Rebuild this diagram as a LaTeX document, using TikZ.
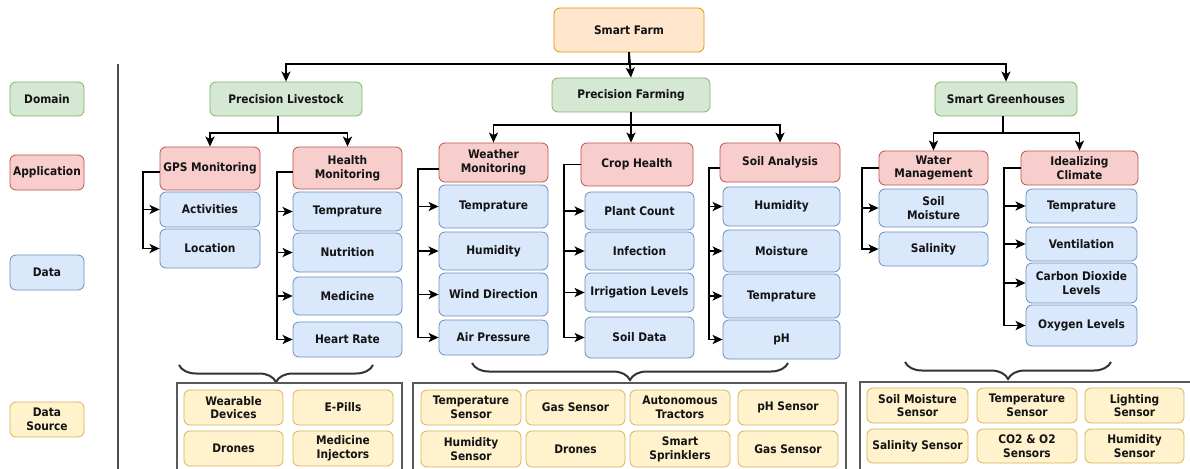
\documentclass[tikz,border=0pt]{standalone}
\usepackage{fontspec}
\setmainfont{DejaVu Sans Condensed}
\usetikzlibrary{arrows.meta,decorations.pathreplacing,calc}

\definecolor{orgF}{HTML}{FFE6CC}\definecolor{orgD}{HTML}{D79B00}
\definecolor{grnF}{HTML}{D5E8D4}\definecolor{grnD}{HTML}{82B366}
\definecolor{redF}{HTML}{F8CECC}\definecolor{redD}{HTML}{B85450}
\definecolor{bluF}{HTML}{DAE8FC}\definecolor{bluD}{HTML}{6C8EBF}
\definecolor{yelF}{HTML}{FFF2CC}\definecolor{yelD}{HTML}{D6B656}
\definecolor{ink}{HTML}{141414}

\tikzset{
  box/.style={rounded corners=6pt, line width=0.8pt, inner sep=1pt, align=center,
    font=\fontsize{11.8}{13.8}\selectfont\bfseries, text=ink},
  sz/.style 2 args={minimum width=#1pt, minimum height=#2pt},
  rootbox/.style={box, fill=orgF, draw=orgD},
  dombox/.style={box, fill=grnF, draw=grnD},
  appbox/.style={box, fill=redF, draw=redD},
  datbox/.style={box, fill=bluF, draw=bluD},
  srcbox/.style={box, fill=yelF, draw=yelD},
  arr/.style={draw=black, line width=1.9pt, -{Stealth[length=10pt,width=9pt,inset=2.5pt]}},
  encl/.style={draw=black!65, line width=1.1pt},
  curly/.style={draw=black!80, line width=2pt,
    decorate, decoration={brace, amplitude=17pt, aspect=0.5}},
}

\begin{document}
\begin{tikzpicture}[x=1pt, y=-1pt]
\useasboundingbox (0,0) rectangle (1190,468);
\clip (0,0) rectangle (1190,468);
\fill[white] (0,0) rectangle (1190,468);

% legend column
\node[dombox, sz={74}{34}] (lgdom) at (47,99) {Domain};
\node[appbox, sz={74}{35}] (lgapp) at (47,172.5) {Application};
\node[datbox, sz={74}{35}] (lgdat) at (47,272.5) {Data};
\node[srcbox, sz={74}{35}] (lgsrc) at (47,419.5) {Data\\Source};
\draw[draw=black!70, line width=1.1pt] (118,64) -- (118,470);

% root and domains
\node[rootbox, sz={150}{44}] (farm) at (629,30) {Smart Farm};
\node[dombox, sz={152}{34}] (pl) at (286,99) {Precision Livestock};
\node[dombox, sz={158}{34}] (pf) at (631,95) {Precision Farming};
\node[dombox, sz={142}{34}] (sg) at (1006,99) {Smart Greenhouses};

% precision livestock
\node[appbox, sz={100}{43}] (gps) at (210,168.5) {GPS Monitoring};
\node[appbox, sz={109}{42}] (hm) at (347.5,168) {Health\\Monitoring};
\node[datbox, sz={100}{35}] (act) at (210,209.5) {Activities};
\node[datbox, sz={100}{39}] (loc) at (210,248.5) {Location};
\node[datbox, sz={109}{39}] (hmt) at (347.5,211.5) {Temprature};
\node[datbox, sz={109}{39}] (nut) at (347.5,252.5) {Nutrition};
\node[datbox, sz={109}{38}] (med) at (347.5,296) {Medicine};
\node[datbox, sz={109}{35}] (hr) at (347.5,339.5) {Heart Rate};

% precision farming
\node[appbox, sz={109}{39}] (wm) at (493.5,162.5) {Weather\\Monitoring};
\node[datbox, sz={109}{43}] (wmt) at (493.5,206.5) {Temprature};
\node[datbox, sz={109}{38}] (wmh) at (493.5,251) {Humidity};
\node[datbox, sz={109}{43}] (wmw) at (493.5,294.5) {Wind Direction};
\node[datbox, sz={109}{35}] (wma) at (493.5,337.5) {Air Pressure};

\node[appbox, sz={112}{43}] (ch) at (637,164.5) {Crop Health};
\node[datbox, sz={109}{38}] (chp) at (639.5,211) {Plant Count};
\node[datbox, sz={109}{38}] (chi) at (639.5,251) {Infection};
\node[datbox, sz={109}{39}] (chl) at (639.5,292.5) {Irrigation Levels};
\node[datbox, sz={109}{41}] (chs) at (639.5,337.5) {Soil Data};

\node[appbox, sz={120}{39}] (sa) at (780,162.5) {Soil Analysis};
\node[datbox, sz={117}{39}] (sah) at (781.5,206.5) {Humidity};
\node[datbox, sz={117}{42}] (sam) at (781.5,251) {Moisture};
\node[datbox, sz={117}{44}] (sat) at (781.5,296) {Temprature};
\node[datbox, sz={117}{39}] (sap) at (781.5,339.5) {pH};

% smart greenhouses
\node[appbox, sz={109}{34}] (wtm) at (933.5,168) {Water\\Management};
\node[datbox, sz={109}{38}] (wsm) at (933.5,208) {Soil\\Moisture};
\node[datbox, sz={109}{34}] (wsl) at (933.5,249) {Salinity};

\node[appbox, sz={117}{34}] (ic) at (1079.5,168) {Idealizing\\Climate};
\node[datbox, sz={111}{34}] (ict) at (1081.5,206) {Temprature};
\node[datbox, sz={111}{34}] (icv) at (1081.5,244) {Ventilation};
\node[datbox, sz={111}{40}] (icc) at (1081.5,283) {Carbon Dioxide\\Levels};
\node[datbox, sz={111}{41}] (ico) at (1081.5,325.5) {Oxygen Levels};

% connectors: root to domains
\draw[arr] (farm.south) -- (pf.north);
\draw[arr] (farm.south) -- ++(0,12) -| (pl.north);
\draw[arr] (farm.south) -- ++(0,12) -| (sg.north);

% domains to applications
\draw[arr] ([xshift=-8pt]pl.south) -- ++(0,17) -| (gps.north);
\draw[arr] ([xshift=-8pt]pl.south) -- ++(0,17) -| (hm.north);
\draw[arr] (pf.south) -- ++(0,13) -| (wm.north);
\draw[arr] (pf.south) -- (pf.south |- ch.north);
\draw[arr] (pf.south) -- ++(0,13) -| (sa.north);
\draw[arr] ([xshift=-3pt]sg.south) -- ++(0,17) -| (wtm.north);
\draw[arr] ([xshift=-3pt]sg.south) -- ++(0,17) -| (ic.north);

% applications to data
\foreach \c in {act,loc}
  \draw[arr] ([yshift=-3.5pt]gps.west) -- ++(-17,0) |- (\c.west);
\foreach \c in {hmt,nut,med,hr}
  \draw[arr] ([yshift=-4pt]hm.west) -- ++(-16,0) |- (\c.west);
\foreach \c in {wmt,wmh,wmw,wma}
  \draw[arr] ([yshift=-6.5pt]wm.west) -- ++(-21,0) |- (\c.west);
\foreach \c in {chp,chi,chl,chs}
  \draw[arr] (ch.west) -- ++(-17,0) |- (\c.west);
\foreach \c in {sah,sam,sat,sap}
  \draw[arr] ([yshift=-5.5pt]sa.west) -- ++(-11,0) |- (\c.west);
\foreach \c in {wsm,wsl}
  \draw[arr] (wtm.west) -- ++(-17,0) |- (\c.west);
\foreach \c in {ict,icv,icc,ico}
  \draw[arr] (ic.west) -- ++(-17,0) |- (\c.west);

% braces over the data sources
\coordinate (brLa) at (373,365); \coordinate (brLb) at (179,365);
\coordinate (brFa) at (788,363); \coordinate (brFb) at (472,363);
\coordinate (brGa) at (1111,362); \coordinate (brGb) at (905,362);
\draw[curly] (brLa) -- (brLb);
\draw[curly] (brFa) -- (brFb);
\draw[curly] (brGa) -- (brGb);

% data source groups
\draw[encl] (177,383) rectangle (402,480);
\draw[encl] (413,383) rectangle (846,480);
\draw[encl] (860,382) rectangle (1200,480);

\node[srcbox, sz={99}{35}] (s1) at (233.5,407.5) {Wearable\\Devices};
\node[srcbox, sz={100}{35}] (s2) at (343,407.5) {E-Pills};
\node[srcbox, sz={99}{35}] (s3) at (233.5,448.5) {Drones};
\node[srcbox, sz={100}{35}] (s4) at (343,448.5) {Medicine\\Injectors};

\node[srcbox, sz={100}{35}] (f1) at (471,407.5) {Temperature\\Sensor};
\node[srcbox, sz={99}{35}] (f2) at (575.5,407.5) {Gas Sensor};
\node[srcbox, sz={100}{35}] (f3) at (680,407.5) {Autonomous\\Tractors};
\node[srcbox, sz={100}{35}] (f4) at (788,407.5) {pH Sensor};
\node[srcbox, sz={100}{36}] (f5) at (471,449) {Humidity\\Sensor};
\node[srcbox, sz={99}{36}] (f6) at (575.5,449) {Drones};
\node[srcbox, sz={100}{36}] (f7) at (680,449) {Smart\\Sprinklers};
\node[srcbox, sz={100}{36}] (f8) at (788,449) {Gas Sensor};

\node[srcbox, sz={101}{35}] (g1) at (917.5,405.5) {Soil Moisture\\Sensor};
\node[srcbox, sz={100}{35}] (g2) at (1027,405.5) {Temperature\\Sensor};
\node[srcbox, sz={99}{35}] (g3) at (1134.5,405.5) {Lighting\\Sensor};
\node[srcbox, sz={101}{34}] (g4) at (917.5,446) {Salinity Sensor};
\node[srcbox, sz={100}{34}] (g5) at (1027,446) {CO2 \& O2\\Sensors};
\node[srcbox, sz={99}{34}] (g6) at (1134.5,446) {Humidity\\Sensor};
\end{tikzpicture}
\end{document}
